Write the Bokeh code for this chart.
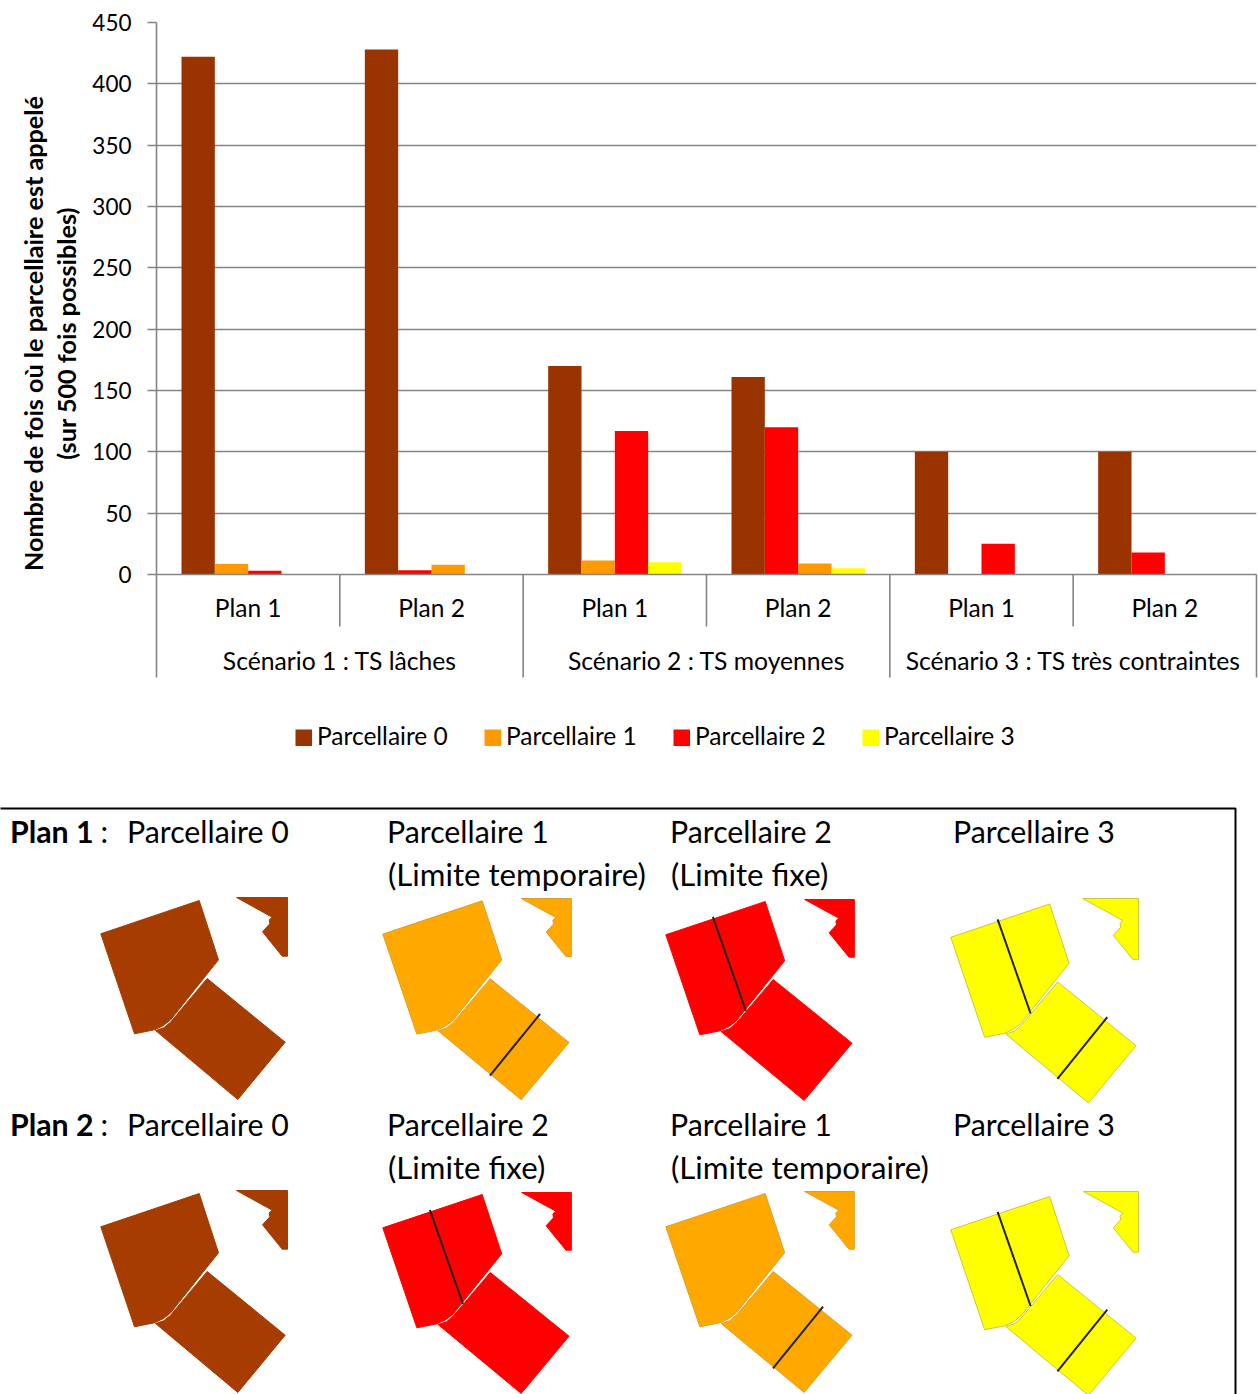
from bokeh.plotting import figure
from bokeh.layouts import column
from bokeh.models import FactorRange, Range1d, ColumnDataSource, FixedTicker
from bokeh.core.properties import value
from bokeh.embed import file_html
from bokeh.resources import INLINE
import math

# ---- chart data ----
scenarios = ["Scénario 1 : TS lâches", "Scénario 2 : TS moyennes", "Scénario 3 : TS très contraintes"]
plans = ["Plan 1", "Plan 2"]
parcellaire_0 = [422, 428, 170, 161, 100, 100]
parcellaire_1 = [8.5, 8, 11.5, 9, 0, 0]
parcellaire_2 = [3, 3.5, 117, 120, 25, 18]
parcellaire_3 = [0, 0, 10, 5, 0, 0]
y_ticks = [0, 50, 100, 150, 200, 250, 300, 350, 400, 450]
series_names = ["Parcellaire 0", "Parcellaire 1", "Parcellaire 2", "Parcellaire 3"]
series_colors = ["#993300", "#FF9900", "#FF0000", "#FFFF00"]
series_values = [parcellaire_0, parcellaire_1, parcellaire_2, parcellaire_3]
# bar slot of each series in the Plan 1 / Plan 2 groups
slot_plan1 = [0, 1, 2, 3]
slot_plan2 = [0, 2, 1, 3]

# ---- thumbnail geometry (page pixels of the first thumbnail) ----
upper_lot = [(100.3, 933.3), (198.7, 900), (218, 959.3), (170, 1019.5), (163, 1025), (154, 1029.3), (134, 1033.3)]
lower_lot = [(206.7, 978), (284.7, 1041.7), (237.3, 1099), (155, 1030), (163.3, 1027.3), (170, 1021.7)]
corner_lot = [(236, 897), (287, 897), (287, 955.7), (281.7, 955.7), (262, 931.3), (269.3, 923.3), (268.7, 919.3), (271.7, 916.7)]
fixed_limit = [(146.9, 915.4), (179.7, 1009.5)]
temporary_limit = [(256, 1013.2), (206.4, 1074.8)]
thumb_colors = {"0": "#A63C00", "1": "#FFA800", "2": "#FF0000", "3": "#FFFF00"}
thumb_edges = {"0": "#A63C00", "1": "#D9A02E", "2": "#FF0000", "3": "#C9C93A"}
# parcel, dx, dy, top edge of the cropped picture, x scale
plan1_thumbs = [("0", 0, 0, 897, 1.0), ("1", 282, 0.3, 898, 1.01), ("2", 565, 1, 899, 1.01), ("3", 850, 3.5, 898, 1.005)]
plan2_thumbs = [("0", 0, 293, 1190, 1.0), ("2", 282, 294, 1192, 1.01), ("1", 565, 293, 1191, 1.01), ("3", 850, 296, 1191, 1.005)]
heading_rows = [
    ("Plan 1", 830, 873, [("Parcellaire 0", None), ("Parcellaire 1", "(Limite temporaire)"), ("Parcellaire 2", "(Limite fixe)"), ("Parcellaire 3", None)]),
    ("Plan 2", 1123, 1166, [("Parcellaire 0", None), ("Parcellaire 2", "(Limite fixe)"), ("Parcellaire 1", "(Limite temporaire)"), ("Parcellaire 3", None)]),
]

FONT = "Lato"
GRID = "#858585"
factors = [(s, pl) for s in scenarios for pl in plans]

# ---- top chart ----
p = figure(width=1258, height=800, x_range=FactorRange(*factors, factor_padding=0, group_padding=0, subgroup_padding=0, range_padding=0),
           y_range=Range1d(0, 450), output_backend="svg", toolbar_location=None,
           min_border_left=156, min_border_right=2, min_border_top=22, min_border_bottom=226, outline_line_color=None)
p.xgrid.visible = False
p.ygrid.grid_line_color = GRID
p.ygrid.grid_line_width = 1.6
p.yaxis.ticker = FixedTicker(ticks=y_ticks)
p.yaxis.minor_tick_line_color = None
p.yaxis.major_tick_in = 0
p.yaxis.major_tick_out = 9
p.yaxis.major_tick_line_color = GRID
p.yaxis.major_tick_line_width = 1.6
p.yaxis.axis_line_color = GRID
p.yaxis.axis_line_width = 1.6
p.yaxis.major_label_standoff = 16
p.yaxis.major_label_text_font = FONT
p.yaxis.major_label_text_font_size = "22.5px"
p.yaxis.major_label_text_color = "#000000"

ax = p.xaxis[0]
ax.axis_line_color = GRID
ax.axis_line_width = 1.6
ax.major_tick_line_color = None
ax.minor_tick_line_color = None
ax.major_label_text_font = FONT
ax.major_label_text_font_size = "24.5px"
ax.major_label_text_color = "#000000"
ax.major_label_standoff = 12
# scenario names are drawn below at their factor positions, lower than the axis would put them
ax.group_text_color = None
ax.separator_line_alpha = 0

group_width = 1.0
bar_width = group_width / 5.5
for k, (name, col, vals) in enumerate(zip(series_names, series_colors, series_values)):
    xs = [i + 0.5 + ((slot_plan1 if i % 2 == 0 else slot_plan2)[k] - 1.5) * bar_width for i in range(len(factors))]
    src = ColumnDataSource(dict(x=xs, top=vals))
    p.vbar(x="x", top="top", bottom=0, width=bar_width, fill_color=col, line_color=None, source=src)

px_per_unit = 552 / 450
short_sep = -52 / px_per_unit
long_sep = -103 / px_per_unit
sep_x = list(range(len(factors) + 1))
sep_y = [long_sep if i % 2 == 0 else short_sep for i in sep_x]
p.segment(x0=sep_x, y0=[0] * len(sep_x), x1=sep_x, y1=sep_y, line_color=GRID, line_width=1.6, level="overlay")

# legend row, placed in page pixels below the axis
def page_x(px):
    return (px - 156) / (1100 / 6)
def page_y(py):
    return (574 - py) / px_per_unit

p.text(x=scenarios, y=[page_y(659.5)] * len(scenarios), text=scenarios, text_font=value(FONT), text_font_size=value("24.7px"),
       text_baseline="middle", text_align="center", text_color="#000000", level="overlay")

for k, (name, col) in enumerate(zip(series_names, series_colors)):
    left = 295 + 189 * k
    p.patch([page_x(left), page_x(left + 16.5), page_x(left + 16.5), page_x(left)],
            [page_y(729), page_y(729), page_y(745.5), page_y(745.5)], fill_color=col, line_color=None, level="overlay")
    p.text(x=[page_x(316.5 + 189 * k)], y=[page_y(734.5)], text=[name], text_font=value(FONT), text_font_size=value("24.5px"),
           text_baseline="middle", text_align="left", text_color="#000000", level="overlay")

for text, px in [("Nombre de fois où le parcellaire est appelé", 32.5), ("(sur 500 fois possibles)", 65.5)]:
    p.text(x=[page_x(px)], y=[page_y(333)], text=[text], angle=math.pi / 2, text_align="center", text_baseline="middle",
           text_font=value(FONT), text_font_size=value("25.2px"), text_font_style="bold", text_color="#000000", level="overlay")

# ---- lower panel ----
q = figure(width=1258, height=594, x_range=Range1d(156, 1256), y_range=Range1d(1394, 800), output_backend="svg",
           toolbar_location=None, min_border_left=156, min_border_right=2, min_border_top=0, min_border_bottom=0, outline_line_color=None)
q.axis.visible = False
q.grid.visible = False
q.line(x=[0, 1235, 1235], y=[808, 808, 1394], line_color="#000000", line_width=2, level="overlay")

def shifted(pts, dx, dy, sx):
    return [100.3 + (a - 100.3) * sx + dx for a, _ in pts], [b + dy for _, b in pts]

def cropped_corner(dy, top):
    # the slanted top-left edge of the corner lot runs on to the crop's top edge
    (x0, y0), (x1, y1) = corner_lot[0], corner_lot[-1]
    slope = (y1 - y0) / (x1 - x0)
    start = x0 + (top - (y0 + dy)) / slope
    pts = [(a, b + dy) for a, b in corner_lot]
    pts[0] = (start, top)
    pts[1] = (pts[1][0], top)
    return pts

for thumbs in (plan1_thumbs, plan2_thumbs):
    for parcel, dx, dy, top, sx in thumbs:
        for pts, ddy in ((upper_lot, dy), (lower_lot, dy), (cropped_corner(dy, top), 0)):
            xs, ys = shifted(pts, dx, ddy, sx)
            q.patch(xs, ys, fill_color=thumb_colors[parcel], line_color=thumb_edges[parcel], line_width=1, level="overlay")
        if parcel in ("2", "3"):
            xs, ys = shifted(fixed_limit, dx, dy, sx)
            q.line(xs, ys, line_color="#222222", line_width=2, level="overlay")
        if parcel in ("1", "3"):
            xs, ys = shifted(temporary_limit, dx, dy, sx)
            q.line(xs, ys, line_color="#222222", line_width=2, level="overlay")

col_x = [126.5, 386.5, 669.5, 952.5]
def put(x, y, s, size="30.3px", style="normal"):
    q.text(x=[x], y=[y], text=[s], text_font=value(FONT), text_font_size=value(size), text_font_style=style,
           text_baseline="alphabetic", text_align="left", text_color="#000000", level="overlay")

for plan_name, y1, y2, cols in heading_rows:
    put(9.5, y1, plan_name, style="bold")
    put(100, y1, ":")
    for cx, (a, b) in zip(col_x, cols):
        put(cx, y1, a)
        if b:
            put(cx + 1, y2, b, size="31.2px")

root = column(p, q, spacing=0)
open("out.html", "w").write(file_html(root, INLINE))
